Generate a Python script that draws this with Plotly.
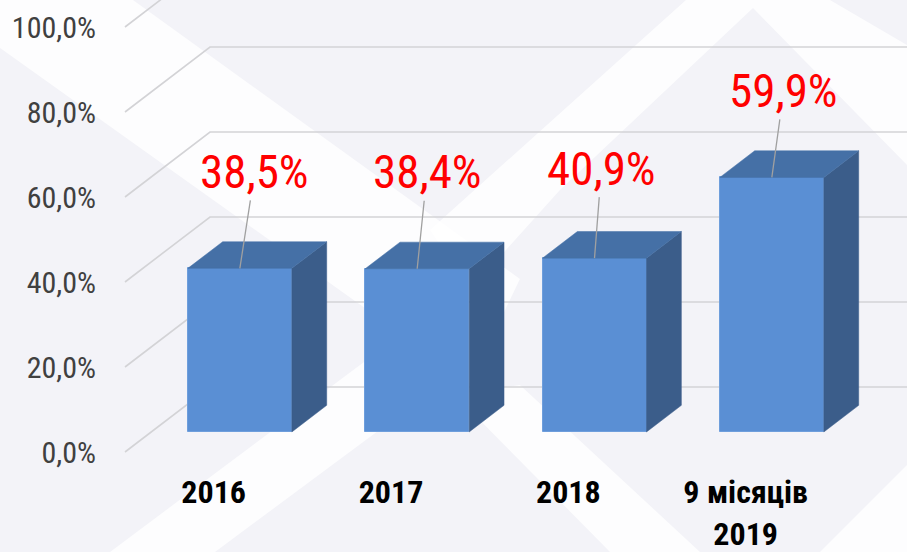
import plotly.graph_objects as go

# ---------------- data ----------------
categories = ["2016", "2017", "2018", "9 місяців<br>2019"]
values = [38.5, 38.4, 40.9, 59.9]
y_ticks = [0, 20, 40, 60, 80, 100]
y_tick_labels = ["0,0%", "20,0%", "40,0%", "60,0%", "80,0%", "100,0%"]

# ---------------- style / layout constants ----------------
W, H = 907, 552
ML, MR, MT, MB = 100, 0, 0, 82
PX_PER_CAT = 177.33          # px per category slot
PX_PER_PCT = 4.25            # px per percentage point
X0_PX, Y0_PX = 125, 452      # pixel of wall front-left corner at 0 %
KX = 85 / PX_PER_CAT         # oblique depth shift (category units)
KY = 65 / PX_PER_PCT         # oblique depth shift (percent units)
D_FRONT, D_BACK = 0.308, 0.718
BAR_W = 104 / PX_PER_CAT

FRONT_C = "#5A8FD4"
TOP_C = "#4570A6"
SIDE_C = "#3B5D8A"
GRID_C = "#D3D3D6"
BG_C = "#F3F3F8"
FONT = "Liberation Sans Narrow, Arial Narrow, Roboto Condensed, sans-serif"

label_offsets = [(15, -97), (10, -97), (7, -90), (12, -87)]  # text offset from bar top (px)


def proj(x, y, d):
    return x + d * KX, y + d * KY


xr = [(ML - X0_PX) / PX_PER_CAT, (W - MR - X0_PX) / PX_PER_CAT]
yr = [(Y0_PX - (H - MB)) / PX_PER_PCT, (Y0_PX - MT) / PX_PER_PCT]

fig = go.Figure()

# ---------------- background decorative bands (paper coords) ----------------
pw, ph = W - ML - MR, H - MT - MB


def pp(px, py):
    return (px - ML) / pw, 1 - (py - MT) / ph


bands = [
    [(0, 0), (133, 0), (520, 279), (470, 383), (0, 48)],
    [(110, 552), (215, 552), (440, 385), (380, 350)],
    [(686, 0), (830, 0), (907, 45), (907, 165), (753, 8), (560, 190), (470, 290), (430, 230)],
    [(455, 395), (520, 385), (700, 552), (610, 552)],
    [(820, 552), (907, 552), (907, 465)],
]
for b in bands:
    pts = [pp(*p) for p in b]
    path = "M " + " L ".join(f"{x:.4f},{y:.4f}" for x, y in pts) + " Z"
    fig.add_shape(type="path", path=path, xref="paper", yref="paper",
                  fillcolor="rgba(255,255,255,0.8)", line_width=0, layer="below")

# ---------------- walls: gridlines ----------------
ncat = len(categories)
for v in y_ticks:
    x1, y1 = proj(0, v, 0)
    x2, y2 = proj(0, v, 1)
    x3, y3 = proj(ncat, v, 1)
    fig.add_shape(type="path", xref="x", yref="y",
                  path=f"M {x1},{y1} L {x2},{y2} L {x3},{y3}",
                  line=dict(color=GRID_C, width=1.6), layer="below")

# ---------------- bars ----------------
centers = [i + 0.5 for i in range(ncat)]
fx = [proj(c, 0, D_FRONT)[0] for c in centers]
fig.add_trace(go.Bar(
    x=fx, y=values, base=proj(0, 0, D_FRONT)[1], width=BAR_W,
    marker=dict(color=FRONT_C, line=dict(color="#6E9EDC", width=1)),
    hoverinfo="skip", showlegend=False,
))

top_x, top_y, side_x, side_y = [], [], [], []
for c, v in zip(centers, values):
    l, r = c - BAR_W / 2, c + BAR_W / 2
    for (px, py) in [proj(l, v, D_FRONT), proj(r, v, D_FRONT), proj(r, v, D_BACK), proj(l, v, D_BACK), proj(l, v, D_FRONT)]:
        top_x.append(px); top_y.append(py)
    top_x.append(None); top_y.append(None)
    for (px, py) in [proj(r, 0, D_FRONT), proj(r, v, D_FRONT), proj(r, v, D_BACK), proj(r, 0, D_BACK), proj(r, 0, D_FRONT)]:
        side_x.append(px); side_y.append(py)
    side_x.append(None); side_y.append(None)

fig.add_trace(go.Scatter(x=side_x, y=side_y, fill="toself", fillcolor=SIDE_C, mode="lines",
                         line=dict(color=SIDE_C, width=0.5), hoverinfo="skip", showlegend=False))
fig.add_trace(go.Scatter(x=top_x, y=top_y, fill="toself", fillcolor=TOP_C, mode="lines",
                         line=dict(color=TOP_C, width=0.5), hoverinfo="skip", showlegend=False))

# ---------------- data labels with leader lines ----------------
for c, v, (ax, ay) in zip(centers, values, label_offsets):
    x, y = proj(c, v, D_FRONT)
    fig.add_annotation(x=x, y=y, xref="x", yref="y", ax=ax, ay=ay,
                       text=f"{v:.1f}%".replace(".", ","), showarrow=True,
                       arrowhead=0, arrowwidth=1.3, arrowcolor="#A0A0A0", standoff=0,
                       font=dict(family=FONT, size=47, color="#FF0000"))

fig.update_layout(
    width=W, height=H,
    margin=dict(l=ML, r=MR, t=MT, b=MB, autoexpand=False),
    paper_bgcolor=BG_C, plot_bgcolor="rgba(0,0,0,0)",
    separators=", ",
    xaxis=dict(range=xr, showgrid=False, zeroline=False, showline=False,
               tickmode="array", tickvals=centers, ticktext=categories,
               tickfont=dict(family=FONT, size=32, color="#000000", weight="bold"),
               ticks="", fixedrange=True, automargin=False),
    yaxis=dict(range=yr, showgrid=False, zeroline=False, showline=False,
               tickmode="array", tickvals=y_ticks, ticktext=y_tick_labels,
               tickfont=dict(family=FONT, size=30, color="#404040"),
               ticks="", ticklabelstandoff=3, fixedrange=True, automargin=False),
    bargap=0,
    showlegend=False,
)

fig.write_html("out.html", config={"displayModeBar": False},
               post_script="document.body.style.margin='0px';")
